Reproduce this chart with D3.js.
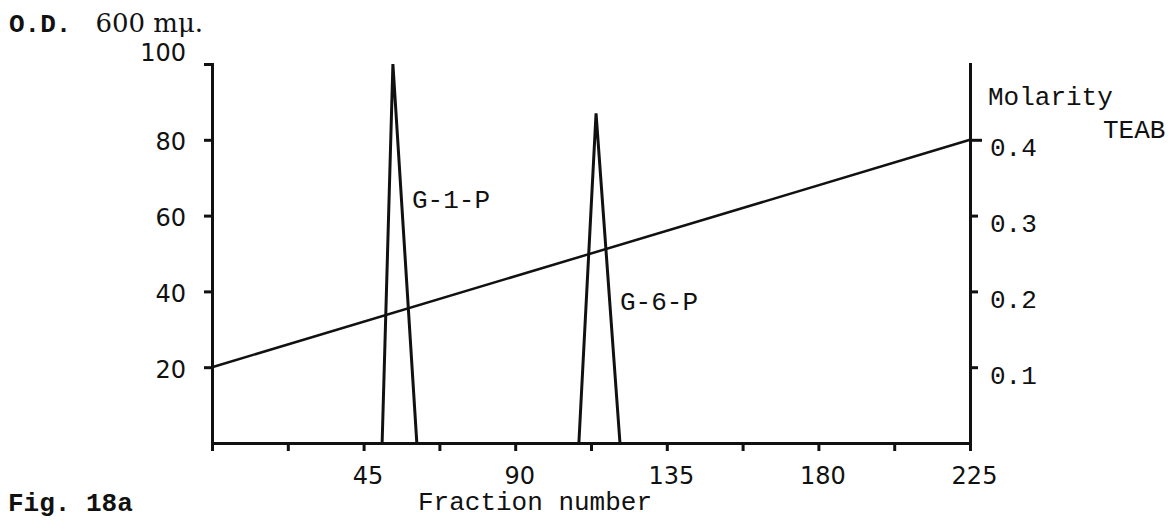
<!DOCTYPE html>
<html>
<head>
<meta charset="utf-8">
<script src="https://cdn.jsdelivr.net/npm/d3@7"></script>
<style>
  body { margin: 0; background: #fff; }
  svg { display: block; }
  .axis path, .axis line { stroke: #111; stroke-width: 3; }
  .num { font-family: "DejaVu Sans", sans-serif; font-size: 24px; fill: #111; }
  .tw { font-family: "Liberation Mono", "DejaVu Sans Mono", monospace; font-size: 26px; fill: #111; }
</style>
</head>
<body>
<script>
// values
const g1pFraction = [50.5, 53.7, 60.8];
const g1pOD = [0, 100, 0];
const g6pFraction = [108.9, 114.0, 121.1];
const g6pOD = [0, 87, 0];
const gradFraction = [0, 225];
const gradMolarity = [0.1, 0.4];

const odTicks = [20, 40, 60, 80, 100];
const molTicks = [0.1, 0.2, 0.3, 0.4];
const fracTicks = [0, 22.5, 45, 67.5, 90, 112.5, 135, 157.5, 180, 202.5, 225];
const fracLabels = [45, 90, 135, 180, 225];

const width = 1172, height = 521;

const x = d3.scaleLinear().domain([0, 225]).range([212, 970]);
const yOD = d3.scaleLinear().domain([0, 100]).range([443, 64]);
const yM = d3.scaleLinear().domain([0, 0.5]).range([443, 64]);

const svg = d3.select("body").append("svg")
    .attr("width", width)
    .attr("height", height);

// left axis
const left = svg.append("g")
    .attr("class", "axis")
    .attr("transform", "translate(" + x(0) + ",0)")
    .call(d3.axisLeft(yOD).tickValues(odTicks).tickSize(8).tickSizeOuter(0).tickPadding(18));
left.selectAll("text").attr("class", "num").attr("font-size", null).attr("font-family", null)
    .attr("dy", d => d == 100 ? "-0.15em" : "0.42em");

// right axis
const right = svg.append("g")
    .attr("class", "axis")
    .attr("transform", "translate(" + x(225) + ",0)")
    .call(d3.axisRight(yM).tickValues(molTicks).tickSize(8).tickSizeOuter(0).tickPadding(12)
        .tickFormat(d3.format(".1f")));
right.selectAll("text").attr("class", "tw").attr("font-size", null).attr("font-family", null)
    .attr("dy", "0.62em");
right.selectAll(".tick line").attr("x2", d => d == 0.4 ? 12 : 8);

// bottom axis
const bottom = svg.append("g")
    .attr("class", "axis")
    .attr("transform", "translate(0," + yOD(0) + ")")
    .call(d3.axisBottom(x).tickValues(fracTicks).tickSize(8).tickSizeOuter(0).tickPadding(16)
        .tickFormat(d => fracLabels.includes(d) ? d : ""));
bottom.selectAll("text").attr("class", "num").attr("font-size", null).attr("font-family", null)
    .attr("dx", 4);

svg.selectAll(".axis .domain").attr("stroke-linecap", "square");

// gradient line
const grad = d3.line()
    .x(d => x(d[0]))
    .y(d => yM(d[1]));
svg.append("path")
    .datum(d3.zip(gradFraction, gradMolarity))
    .attr("d", grad)
    .attr("fill", "none")
    .attr("stroke", "#111")
    .attr("stroke-width", 2.5);

// peaks
const peak = d3.line()
    .x(d => x(d[0]))
    .y(d => yOD(d[1]));
[[g1pFraction, g1pOD], [g6pFraction, g6pOD]].forEach(p => {
    svg.append("path")
        .datum(d3.zip(p[0], p[1]))
        .attr("d", peak)
        .attr("fill", "none")
        .attr("stroke", "#111")
        .attr("stroke-width", 3)
        .attr("stroke-linejoin", "miter");
});

// labels
svg.append("text").attr("class", "tw").attr("x", 412).attr("y", 208).text("G-1-P");
svg.append("text").attr("class", "tw").attr("x", 620).attr("y", 310).text("G-6-P");
svg.append("text").attr("class", "tw").attr("x", 988).attr("y", 105).text("Molarity");
svg.append("text").attr("class", "tw").attr("x", 1103).attr("y", 138).text("TEAB");
svg.append("text").attr("class", "tw").attr("x", 535).attr("y", 510)
    .attr("text-anchor", "middle").text("Fraction number");

const od = svg.append("text").attr("x", 9).attr("y", 32);
od.append("tspan").attr("class", "tw").attr("font-weight", "bold").attr("font-size", 24).text("O.D.");
od.append("tspan").attr("font-family", "'DejaVu Serif', serif").attr("font-size", 26).attr("fill", "#111")
    .attr("dx", 24).text("600 mμ.");

svg.append("text").attr("class", "tw").attr("font-weight", "bold").attr("font-size", 20)
    .attr("x", 8).attr("y", 511).text("Fig. 18a");
</script>
</body>
</html>
